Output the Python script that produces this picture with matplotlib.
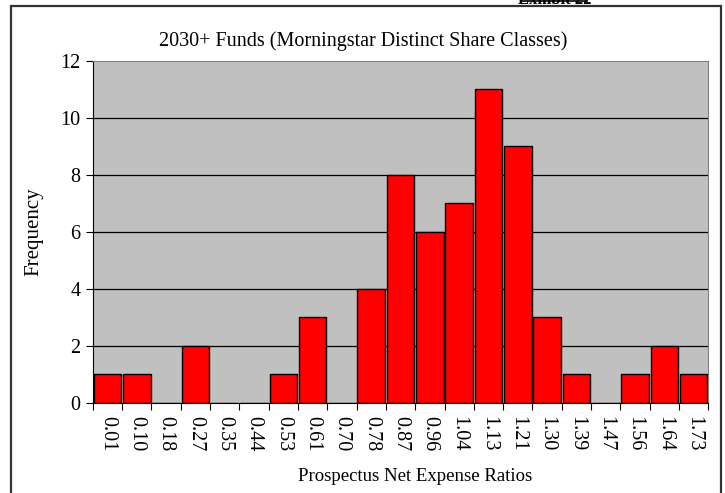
import matplotlib.pyplot as plt
from matplotlib.patches import Rectangle
from matplotlib.lines import Line2D

plt.rcParams['font.family'] = ['Liberation Serif', 'DejaVu Serif']

ratios = ['0.01', '0.10', '0.18', '0.27', '0.35', '0.44', '0.53', '0.61', '0.70', '0.78',
          '0.87', '0.96', '1.04', '1.13', '1.21', '1.30', '1.39', '1.47', '1.56', '1.64', '1.73']
counts = [1, 1, 0, 2, 0, 0, 1, 3, 0, 4, 8, 6, 7, 11, 9, 3, 1, 0, 1, 2, 1]

fig = plt.figure(figsize=(7.25, 4.93), dpi=100)
ax = fig.add_axes([0.128, 0.1826, 0.849, 0.6937])

ax.set_facecolor('#C0C0C0')
for y in range(2, 12, 2):
    ax.axhline(y, color='black', lw=0.9, zorder=1)

pos = list(range(len(ratios)))
ax.bar(pos, counts, width=0.94, color='#FF0000', edgecolor='black', lw=1.0, zorder=2)

ax.set_xlim(-0.5, len(ratios) - 0.5)
ax.set_ylim(0, 12)
ax.set_yticks(range(0, 13, 2))
ax.tick_params(axis='y', labelsize=14.5, length=5, direction='out', pad=4)
ax.set_xticks([p - 0.5 for p in pos] + [len(ratios) - 0.5])
ax.set_xticklabels([])
ax.tick_params(axis='x', length=5, direction='out')
for p, lab in zip(pos, ratios):
    ax.text(p, -0.45, lab, rotation=270, ha='center', va='top', fontsize=14.5)

for s in ['top', 'right']:
    ax.spines[s].set_color('#808080')
for s in ['left', 'bottom']:
    ax.spines[s].set_color('black')

ax.set_title('2030+ Funds (Morningstar Distinct Share Classes)', fontsize=14.5, pad=11, x=0.44)
ax.set_ylabel('Frequency', fontsize=15, labelpad=12)
fig.text(0.572, 0.034, 'Prospectus Net Expense Ratios', ha='center', va='center', fontsize=13.5)

fig.patches.append(Rectangle((11 / 725, -0.01), 710 / 725, 1 - 6 / 493 + 0.01,
                             transform=fig.transFigure, fill=False, ec='#333333', lw=1.6))
fig.text(0.765, 1.0, 'Exhibit 22', ha='center', va='center', fontsize=12, weight='bold')
fig.lines.append(Line2D([0.72, 0.81], [0.997, 0.997], transform=fig.transFigure, color='black', lw=1.2))

fig.savefig('out.png', dpi=100)
